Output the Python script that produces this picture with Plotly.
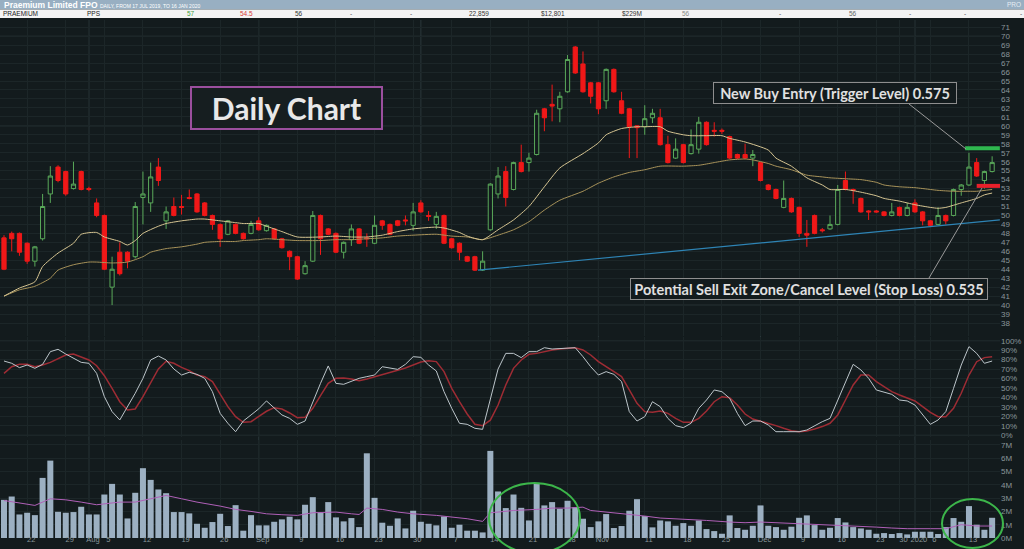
import plotly.graph_objects as go
import pandas as pd

W, H = 1024, 549
def px(x): return x / W
def py(y): return 1 - y / H

# ---------------- data ----------------
holidays = ["2019-12-25", "2019-12-26", "2020-01-01"]
dates = [d.strftime("%Y-%m-%d") for d in pd.bdate_range("2019-07-17", "2020-01-16")
         if d.strftime("%Y-%m-%d") not in holidays]

open_ = [
    47.5, 48.0, 48.0, 46.9, 44.9, 47.4, 52.4, 55.4, 54.9, 53.0,
    54.9, 53.0, 51.4, 50.0, 42.0, 45.9, 45.9, 45.4, 52.0, 51.4,
    55.4, 49.4, 51.0, 51.0, 52.0, 52.4, 51.4, 50.0, 49.0, 47.9,
    49.0, 48.0, 48.0, 49.4, 48.3, 48.5, 47.4, 46.0, 45.4, 43.5,
    44.9, 50.0, 48.5, 48.0, 45.9, 47.3, 48.5, 47.5, 46.9, 49.4,
    49.0, 49.4, 49.5, 48.9, 51.4, 50.0, 49.0, 50.0, 47.4, 46.9,
    45.4, 45.4, 43.9, 48.4, 52.4, 54.9, 52.9, 55.9, 55.9, 56.8,
    61.9, 62.4, 61.9, 63.8, 68.8, 66.9, 64.8, 64.8, 62.8, 66.3,
    62.8, 61.9, 60.0, 59.9, 60.9, 60.9, 57.9, 56.4, 57.9, 56.9,
    57.4, 60.4, 59.5, 59.5, 58.8, 56.8, 56.8, 56.4, 55.9, 53.4,
    52.9, 50.9, 51.9, 50.9, 48.0, 50.0, 48.4, 48.5, 49.0, 53.9,
    52.9, 51.9, 50.5, 50.5, 50.4, 50.0, 50.9, 50.0, 51.4, 50.4,
    49.4, 49.0, 50.0, 50.0, 52.9, 53.4, 55.9, 53.9, 54.9]
close = [
    44.0, 47.4, 45.9, 44.9, 46.5, 51.0, 54.4, 53.9, 52.4, 53.5,
    52.9, 52.9, 50.0, 44.0, 44.0, 43.5, 44.9, 51.0, 52.4, 54.3,
    53.9, 50.4, 50.0, 50.9, 51.9, 50.4, 50.0, 49.0, 47.4, 49.4,
    48.0, 47.4, 49.0, 48.4, 48.9, 47.4, 46.4, 45.4, 42.9, 44.4,
    50.0, 47.4, 47.9, 45.9, 47.0, 48.5, 46.9, 47.4, 48.9, 48.9,
    47.9, 48.9, 49.4, 50.4, 50.4, 49.9, 49.9, 46.9, 46.4, 45.9,
    44.9, 43.9, 44.9, 53.5, 54.4, 52.0, 55.9, 54.9, 56.4, 61.4,
    60.9, 62.2, 63.3, 67.4, 65.9, 63.8, 63.3, 61.9, 66.3, 63.8,
    61.4, 59.9, 59.8, 60.8, 61.4, 57.9, 55.9, 57.4, 55.9, 57.9,
    60.4, 57.9, 59.4, 59.4, 56.4, 56.4, 56.4, 56.8, 53.9, 52.9,
    51.9, 51.9, 50.4, 48.0, 47.8, 48.0, 48.3, 49.0, 52.9, 52.9,
    52.8, 50.4, 50.4, 50.4, 50.0, 50.4, 50.0, 50.9, 50.4, 49.4,
    48.9, 50.0, 49.4, 52.9, 53.4, 55.4, 54.4, 54.9, 55.9]
high = [
    47.8, 48.2, 48.1, 47.0, 46.6, 52.4, 55.5, 55.6, 55.0, 56.0,
    55.0, 53.2, 51.9, 50.1, 45.4, 47.0, 46.0, 51.5, 54.9, 55.9,
    56.4, 51.0, 52.0, 52.3, 52.9, 52.5, 51.5, 50.1, 49.1, 49.5,
    49.1, 48.1, 49.4, 49.8, 49.0, 48.6, 47.5, 46.1, 45.5, 44.9,
    50.5, 50.1, 48.6, 48.1, 47.1, 49.0, 48.6, 48.0, 50.0, 49.5,
    49.1, 49.5, 50.0, 51.4, 51.7, 50.5, 50.4, 50.1, 47.5, 47.0,
    45.5, 45.5, 46.0, 53.6, 55.4, 55.5, 56.0, 57.9, 57.0, 61.8,
    62.0, 64.6, 63.8, 67.9, 68.9, 68.3, 64.9, 64.9, 66.4, 66.4,
    63.8, 62.0, 60.0, 62.3, 61.9, 61.9, 58.9, 58.6, 58.0, 59.6,
    61.0, 60.5, 60.4, 59.7, 58.9, 56.9, 58.0, 57.3, 56.0, 53.5,
    53.0, 53.9, 52.0, 51.0, 49.5, 50.1, 48.6, 50.0, 53.4, 54.9,
    53.0, 52.0, 50.6, 50.6, 50.5, 51.4, 51.0, 51.4, 51.8, 50.5,
    49.5, 50.9, 50.1, 53.0, 53.5, 57.0, 56.4, 55.0, 56.6]
low = [
    43.9, 46.0, 45.5, 44.6, 44.3, 47.2, 51.4, 53.7, 52.2, 52.9,
    52.8, 52.7, 49.8, 43.9, 40.0, 43.3, 44.1, 45.2, 49.0, 50.4,
    53.3, 48.5, 49.9, 50.1, 51.8, 50.3, 49.9, 48.4, 46.5, 47.8,
    47.9, 47.3, 47.9, 48.3, 48.2, 47.3, 46.3, 43.9, 42.8, 43.4,
    44.8, 45.6, 47.8, 45.8, 45.2, 46.6, 46.8, 46.5, 46.8, 48.4,
    47.8, 48.8, 48.9, 48.3, 50.3, 49.4, 48.5, 46.8, 46.3, 45.0,
    44.8, 43.8, 43.8, 48.3, 51.9, 51.0, 52.8, 54.8, 54.9, 56.7,
    59.4, 60.5, 60.4, 63.7, 65.8, 63.7, 62.5, 61.3, 61.9, 63.7,
    61.3, 56.4, 56.4, 59.0, 60.3, 57.8, 55.8, 56.3, 55.8, 56.8,
    56.9, 57.8, 58.8, 59.1, 56.3, 56.3, 56.3, 55.5, 53.8, 52.8,
    51.8, 50.8, 50.3, 47.6, 46.5, 47.9, 48.1, 48.4, 48.9, 52.8,
    51.3, 50.3, 49.5, 50.3, 49.9, 49.9, 49.9, 49.9, 50.3, 48.9,
    48.8, 48.9, 49.0, 49.9, 52.2, 53.3, 54.3, 53.0, 54.8]

volume_m = [
    2.87, 3.12, 1.77, 1.90, 1.72, 4.52, 5.82, 1.97, 1.90, 1.95,
    2.35, 1.77, 1.77, 3.27, 4.07, 3.27, 1.47, 3.40, 5.25, 4.37,
    3.65, 3.37, 1.95, 1.95, 1.85, 1.07, 0.77, 1.20, 1.82, 0.90,
    2.47, 0.55, 1.72, 0.95, 0.95, 1.22, 1.40, 1.60, 1.40, 2.50,
    3.07, 1.92, 2.70, 1.55, 1.25, 1.50, 0.82, 6.37, 3.02, 1.15,
    0.92, 1.47, 0.72, 2.05, 1.22, 1.07, 0.95, 1.62, 0.77, 1.00,
    0.55, 0.55, 0.42, 6.55, 3.50, 2.25, 3.27, 2.27, 1.32, 4.15,
    2.45, 2.70, 2.20, 2.80, 2.32, 1.45, 0.82, 1.25, 1.80, 0.75,
    0.90, 2.05, 2.92, 1.65, 0.80, 1.32, 1.25, 0.92, 1.12, 0.92,
    1.32, 0.67, 0.52, 0.32, 1.70, 0.75, 0.62, 0.92, 2.45, 0.92,
    0.82, 0.62, 0.85, 1.52, 1.70, 0.97, 0.62, 0.77, 1.50, 1.17,
    0.82, 0.72, 0.62, 0.32, 0.37, 0.30, 0.37, 0.27, 0.47, 0.47,
    0.47, 0.30, 0.82, 1.50, 1.22, 2.40, 1.00, 0.62, 1.52]

stoch_k = [
    78.5, 76.1, 71.5, 74.3, 70.8, 75.0, 88.4, 90.9, 85.9, 81.4,
    77.1, 76.1, 65.5, 40.8, 25.0, 16.2, 30.3, 44.4, 60.2, 79.6,
    83.8, 79.6, 70.1, 63.7, 66.6, 64.4, 60.2, 46.1, 23.2, 12.7,
    3.8, 15.1, 21.5, 28.0, 36.3, 29.2, 21.5, 17.9, 11.6, 15.1,
    35.5, 54.9, 73.3, 54.9, 53.9, 56.7, 60.2, 62.0, 63.7, 72.5,
    70.8, 69.7, 75.0, 83.1, 82.4, 74.3, 68.0, 46.1, 28.5, 12.7,
    11.6, 7.4, 6.3, 37.0, 70.0, 86.6, 86.6, 82.1, 88.4, 88.4,
    92.6, 91.2, 91.9, 92.6, 92.6, 83.1, 72.5, 63.7, 67.3, 64.4,
    56.7, 25.0, 15.1, 19.7, 35.5, 30.3, 17.9, 10.2, 8.1, 12.7,
    28.5, 37.3, 47.9, 46.1, 39.1, 23.2, 10.2, 15.1, 15.1, 10.9,
    3.8, 3.8, 3.8, 3.8, 5.6, 10.2, 14.4, 17.9, 37.3, 56.7,
    75.0, 69.1, 60.2, 47.9, 45.4, 43.3, 37.3, 36.3, 32.0, 21.5,
    11.6, 16.2, 25.0, 49.6, 74.3, 93.7, 86.6, 76.1, 78.5]
stoch_d = [
    65.5, 72.5, 75.0, 75.0, 72.5, 74.3, 77.1, 81.4, 84.9, 85.9,
    83.1, 79.6, 73.5, 63.0, 49.6, 35.5, 26.7, 27.8, 40.8, 56.0,
    70.1, 78.2, 76.1, 71.8, 68.3, 63.7, 62.0, 56.7, 43.7, 30.3,
    19.7, 13.7, 14.4, 19.7, 25.4, 29.2, 27.8, 23.6, 18.6, 19.0,
    28.5, 41.9, 54.9, 60.2, 60.5, 59.5, 57.7, 59.5, 61.6, 64.1,
    66.6, 68.7, 71.1, 74.3, 77.5, 78.9, 77.9, 67.3, 49.6, 35.5,
    22.5, 11.6, 10.2, 16.0, 32.0, 53.2, 70.8, 79.6, 85.6, 86.6,
    88.4, 90.2, 91.2, 91.9, 92.6, 90.2, 84.9, 77.8, 72.5, 68.0,
    62.0, 47.9, 33.8, 25.0, 24.3, 25.7, 23.2, 17.9, 13.7, 13.7,
    17.9, 25.7, 35.5, 40.8, 39.8, 32.0, 22.5, 17.2, 15.1, 12.7,
    10.2, 7.4, 4.9, 3.8, 4.5, 6.7, 9.2, 12.7, 21.5, 37.3,
    53.2, 63.7, 63.7, 56.7, 51.4, 46.1, 42.6, 39.1, 36.3, 30.3,
    24.3, 19.7, 19.7, 28.5, 44.4, 63.7, 77.8, 82.1, 83.1]

# moving averages (day index, value)
ma_fast_day = [0, 2, 4, 5, 7, 9, 10, 12, 13, 15, 16, 17, 18, 20, 21, 23, 25, 26, 28, 30,
               31, 33, 34, 36, 38, 41, 43, 45, 47, 49, 51, 53, 56, 57, 59, 60, 62, 64, 66, 68,
               70, 72, 75, 77, 78, 80, 82, 83, 85, 86, 88, 89, 91, 93, 94, 96, 99, 100, 102, 104,
               106, 107, 109, 111, 113, 114, 116, 118, 120, 121, 122, 124, 126, 127, 128]
ma_fast = [41.0, 41.9, 42.6, 44.3, 45.8, 46.9, 47.9, 48.1, 47.6, 47.1, 46.7, 47.2, 48.0, 48.8, 49.1,
           49.4, 49.6, 49.6, 49.4, 49.2, 49.1, 49.1, 48.8, 48.2, 47.6, 47.6, 47.7, 47.6, 47.6, 47.8,
           48.2, 48.5, 48.7, 48.6, 48.1, 47.7, 47.3, 48.4, 49.5, 51.0, 53.2, 55.3, 56.9, 58.1, 59.0,
           59.7, 59.9, 59.9, 59.9, 59.4, 59.0, 58.9, 58.9, 58.9, 58.6, 58.2, 57.3, 56.4, 55.5, 54.2,
           53.4, 52.9, 52.9, 52.6, 52.2, 51.9, 51.6, 51.2, 50.9, 50.8, 50.9, 51.4, 51.9, 52.3, 52.5]
ma_slow_day = [0, 2, 4, 6, 7, 9, 11, 12, 14, 16, 18, 19, 21, 23, 25, 26, 28, 30, 31, 33,
               34, 36, 38, 41, 43, 45, 47, 49, 51, 53, 56, 58, 60, 62, 64, 66, 68, 70, 72, 75,
               77, 79, 81, 83, 85, 88, 90, 92, 94, 96, 97, 99, 100, 102, 104, 106, 107, 109, 111, 113,
               114, 116, 118, 120, 121, 123, 125, 126, 128]
ma_slow = [41.0, 41.7, 42.1, 43.0, 43.9, 44.5, 44.8, 44.8, 44.7, 44.8, 45.4, 45.9, 46.3, 46.5, 46.8,
           47.0, 47.1, 47.1, 47.2, 47.3, 47.4, 47.3, 47.2, 47.2, 47.3, 47.3, 47.4, 47.5, 47.7, 47.8,
           47.9, 47.7, 47.6, 47.3, 47.8, 48.4, 49.3, 50.6, 51.7, 52.7, 53.6, 54.3, 54.8, 55.1, 55.5,
           55.5, 55.6, 55.9, 56.2, 56.3, 56.2, 55.8, 55.5, 55.1, 54.5, 54.3, 54.2, 54.1, 54.0, 53.7,
           53.4, 53.2, 53.1, 52.9, 52.8, 52.7, 52.7, 52.7, 52.9]
vol_ma_day = [0, 2, 4, 6, 8, 10, 12, 15, 17, 19, 21, 23, 25, 28, 30, 32, 34, 36, 38, 40,
              43, 45, 46, 47, 49, 51, 53, 56, 58, 60, 62, 63, 64, 66, 69, 71, 73, 75, 76, 79,
              81, 83, 85, 87, 89, 91, 94, 96, 98, 100, 102, 105, 107, 109, 111, 113, 115, 117, 120, 122,
              124, 126, 128]
vol_ma = [2.82, 2.65, 2.45, 2.95, 2.87, 2.70, 2.50, 2.70, 2.70, 2.95, 3.20, 2.95, 2.70, 2.40, 2.15,
          2.00, 1.82, 1.75, 1.70, 1.90, 1.95, 1.82, 1.77, 2.25, 2.15, 1.95, 1.82, 1.70, 1.57, 1.45,
          1.25, 1.90, 1.95, 2.07, 2.15, 2.25, 2.25, 2.32, 2.07, 1.90, 1.77, 1.65, 1.50, 1.45, 1.40,
          1.32, 1.20, 1.15, 1.20, 1.15, 1.12, 1.07, 1.00, 0.95, 0.87, 0.82, 0.75, 0.70, 0.70, 0.70,
          1.00, 0.90, 0.90]

trend_price = [43.9, 49.5]          # support trendline start / end
buy_level = 57.5                    # 0.575 trigger
stop_level = 53.3                   # 0.535 stop loss

tick_dates = ["2019-07-22", "2019-07-29", "2019-08-01", "2019-08-05", "2019-08-12", "2019-08-19",
              "2019-08-26", "2019-09-02", "2019-09-09", "2019-09-16", "2019-09-23", "2019-09-30",
              "2019-10-07", "2019-10-14", "2019-10-21", "2019-10-28", "2019-11-01", "2019-11-11",
              "2019-11-18", "2019-11-25", "2019-12-02", "2019-12-09", "2019-12-16", "2019-12-23",
              "2019-12-30", "2020-01-02", "2020-01-06", "2020-01-13"]
tick_text = ["22", "29", "Aug", "5", "12", "19", "26", "Sep", "9", "16", "23", "30", "7", "14",
             "21", "28", "Nov", "11", "18", "25", "Dec", "9", "16", "23", "30", "2020", "6", "13"]
month_starts = ["2019-08-01", "2019-09-02", "2019-10-01", "2019-11-01", "2019-12-02", "2020-01-02"]
price_ticks = list(range(38, 72))
osc_ticks = list(range(0, 101, 10))
vol_ticks = list(range(0, 8))

header_cells = ["PRAEMIUM", "PPS", "57", "54.5", "56", "-", "-", "22,859", "$12,801", "$229M",
                "56", "-", "56", "-", "-", "-"]

# ---------------- style ----------------
BG = "#131b1d"
GRID = "#1c2628"
GRID_B = "#2b383b"
TICK = "#8a969a"
GREEN = "#5aa95a"
RED = "#f01818"
FONT = "Liberation Sans"

fig = go.Figure()
fig.add_trace(go.Candlestick(
    x=dates, open=open_, high=high, low=low, close=close,
    increasing=dict(line=dict(color=GREEN, width=1), fillcolor=BG),
    decreasing=dict(line=dict(color=RED, width=1), fillcolor=RED),
    whiskerwidth=0, showlegend=False, hoverinfo="skip", xaxis="x", yaxis="y"))
fig.add_trace(go.Scatter(x=[dates[i] for i in ma_slow_day], y=ma_slow, mode="lines",
                         line=dict(color="#a8935a", width=1, shape="spline", smoothing=0.6),
                         showlegend=False, hoverinfo="skip", xaxis="x", yaxis="y"))
fig.add_trace(go.Scatter(x=[dates[i] for i in ma_fast_day], y=ma_fast, mode="lines",
                         line=dict(color="#d6c592", width=1, shape="spline", smoothing=0.6),
                         showlegend=False, hoverinfo="skip", xaxis="x", yaxis="y"))

fig.add_trace(go.Scatter(x=dates, y=stoch_d, mode="lines",
                         line=dict(color="#9e2c34", width=1.5),
                         showlegend=False, hoverinfo="skip", xaxis="x", yaxis="y2"))
fig.add_trace(go.Scatter(x=dates, y=stoch_k, mode="lines",
                         line=dict(color="#bcc5ca", width=1),
                         showlegend=False, hoverinfo="skip", xaxis="x", yaxis="y2"))

fig.add_trace(go.Bar(x=dates, y=volume_m, marker=dict(color="#9cb0c2", line=dict(width=0)),
                     showlegend=False, hoverinfo="skip", xaxis="x", yaxis="y3"))
fig.add_trace(go.Scatter(x=[dates[i] for i in vol_ma_day], y=vol_ma, mode="lines",
                         line=dict(color="#b060b8", width=1),
                         showlegend=False, hoverinfo="skip", xaxis="x", yaxis="y3"))

tickfont = dict(family=FONT, size=8, color=TICK)
yax_common = dict(side="right", anchor="x", showgrid=True, gridcolor=GRID, gridwidth=1,
                  zeroline=False, showline=False, ticks="", tickfont=tickfont,
                  ticklabeloverflow="allow", automargin=False, fixedrange=True)

fig.update_layout(
    width=W, height=H, margin=dict(l=0, r=0, t=0, b=0),
    paper_bgcolor=BG, plot_bgcolor=BG, template="none",
    bargap=0.22, boxgap=0.22, showlegend=False,
    xaxis=dict(type="category", domain=[0, px(1000)], range=[-0.518, 129.02], anchor="y3",
               rangeslider=dict(visible=False), tickvals=tick_dates, ticktext=tick_text,
               showgrid=True, gridcolor=GRID, ticks="",
               tickfont=dict(family=FONT, size=7.5, color=TICK), ticklabelshift=4,
               ticklabelstandoff=-5, ticklabeloverflow="allow",
               zeroline=False, showline=False, automargin=False, fixedrange=True),
    yaxis=dict(domain=[py(336), py(20)], range=[36.55, 71.81],
               tickvals=price_ticks, ticktext=[str(v) for v in price_ticks], **yax_common),
    yaxis2=dict(domain=[py(437), py(337)], range=[-1.8, 103.9],
                tickvals=osc_ticks, ticktext=[f"{v}%" for v in osc_ticks], **yax_common),
    yaxis3=dict(domain=[py(538), py(440)], range=[0, 7.37],
                tickvals=vol_ticks, ticktext=[f"{v}M" for v in vol_ticks], **yax_common),
)

shapes = []
# brighter month / level grid
for d in month_starts:
    xi = dates.index(d)
    shapes.append(dict(type="line", xref="x", x0=xi, x1=xi, yref="paper", y0=py(538), y1=py(20),
                       line=dict(color=GRID_B, width=1), layer="between"))
for lv in [40, 50, 60, 70]:
    shapes.append(dict(type="line", xref="paper", x0=0, x1=px(1000), yref="y", y0=lv, y1=lv,
                       line=dict(color=GRID_B, width=1), layer="between"))
for lv in [0, 100]:
    shapes.append(dict(type="line", xref="paper", x0=0, x1=px(1000), yref="y2", y0=lv, y1=lv,
                       line=dict(color=GRID_B, width=1), layer="between"))
# trend line
shapes.append(dict(type="line", xref="x", yref="y", x0=61.4, x1=129.0,
                   y0=trend_price[0], y1=trend_price[1], line=dict(color="#2e84b5", width=1.2)))
# trigger / stop levels
shapes.append(dict(type="line", xref="x", yref="y", x0=124.5, x1=129.0, y0=buy_level, y1=buy_level,
                   line=dict(color="#2fb84f", width=4)))
shapes.append(dict(type="line", xref="x", yref="y", x0=126.0, x1=129.5, y0=stop_level, y1=stop_level,
                   line=dict(color="#e8202a", width=4)))
# connector lines
shapes.append(dict(type="line", xref="paper", yref="paper", x0=px(909), y0=py(104), x1=px(966), y1=py(149),
                   line=dict(color="#9a9a9a", width=1)))
shapes.append(dict(type="line", xref="paper", yref="paper", x0=px(929), y0=py(278), x1=px(982), y1=py(188),
                   line=dict(color="#9a9a9a", width=1)))
# volume ellipses
shapes.append(dict(type="circle", xref="paper", yref="paper", x0=px(489), x1=px(580), y0=py(553), y1=py(483),
                   line=dict(color="#3cb54a", width=2)))
shapes.append(dict(type="circle", xref="paper", yref="paper", x0=px(942), x1=px(1003), y0=py(548), y1=py(499),
                   line=dict(color="#3cb54a", width=2)))
# header bars
shapes.append(dict(type="rect", xref="paper", yref="paper", x0=0, x1=1, y0=py(9.5), y1=1,
                   fillcolor="#98afc2", line=dict(width=0)))
shapes.append(dict(type="rect", xref="paper", yref="paper", x0=0, x1=1, y0=py(18), y1=py(9.5),
                   fillcolor="#f3f3f3", line=dict(width=0)))
fig.update_layout(shapes=shapes)

ann = []
ann.append(dict(xref="paper", yref="paper", x=px(2), y=py(4.8), xanchor="left", yanchor="middle",
                showarrow=False,
                text="<b>Praemium Limited FPO</b> <span style='font-size:5px'>DAILY, FROM 17 JUL 2019, TO 16 JAN 2020</span>",
                font=dict(family=FONT, size=8.5, color="#ffffff")))
ann.append(dict(xref="paper", yref="paper", x=px(1023), y=py(4.8), xanchor="right", yanchor="middle",
                showarrow=False, text="PRO", font=dict(family=FONT, size=6.5, color="#e4ecf2")))
cell_x = [1, 85, 185, 238, 293, 348, 408, 467, 539, 620, 680, 777, 847, 907, 962, 1018]
cell_col = ["#222", "#222", "#3e9e3e", "#d83a3a", "#333", "#555", "#555", "#333", "#333", "#333",
            "#888", "#555", "#666", "#555", "#555", "#555"]
for t, x, c in zip(header_cells, cell_x, cell_col):
    ann.append(dict(xref="paper", yref="paper", x=px(x), y=py(14), xanchor="left", yanchor="middle",
                    showarrow=False, text=t, font=dict(family=FONT, size=6.5, color=c)))

ann.append(dict(xref="paper", yref="paper", x=px(286.5), y=py(108), xanchor="center", yanchor="middle",
                showarrow=False, text="<b>Daily Chart</b>", width=189, height=40,
                bordercolor="#9b4f9e", borderwidth=2, borderpad=0, bgcolor="#161e20",
                font=dict(family="Lato", size=30, color="#e8e8e8")))
ann.append(dict(xref="paper", yref="paper", x=px(835), y=py(93), xanchor="center", yanchor="middle",
                showarrow=False, text="<b>New Buy Entry (Trigger Level) 0.575</b>", width=242, height=20,
                bordercolor="#8e8e8e", borderwidth=1, borderpad=0, bgcolor=BG,
                font=dict(family="Lato", size=14.5, color="#e0e0e0")))
ann.append(dict(xref="paper", yref="paper", x=px(809), y=py(289), xanchor="center", yanchor="middle",
                showarrow=False, text="<b>Potential Sell Exit Zone/Cancel Level (Stop Loss) 0.535</b>",
                width=356, height=20,
                bordercolor="#8e8e8e", borderwidth=1, borderpad=0, bgcolor=BG,
                font=dict(family="Lato", size=14.5, color="#e0e0e0")))
fig.update_layout(annotations=ann)

fig.write_html("out.html", config={"displayModeBar": False},
               post_script="document.body.style.margin='0px';document.body.style.overflow='hidden';")
